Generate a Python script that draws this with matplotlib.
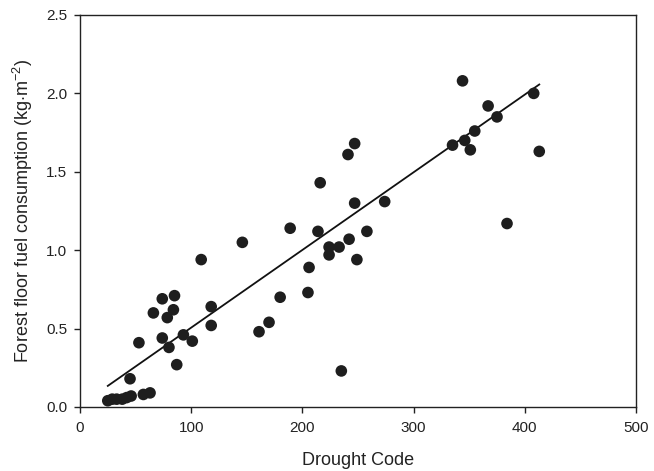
import numpy as np
import matplotlib
matplotlib.use("Agg")
import matplotlib.pyplot as plt

plt.rcParams['font.family'] = ['Liberation Sans', 'DejaVu Sans']
plt.rcParams['mathtext.fontset'] = 'custom'
plt.rcParams['mathtext.rm'] = 'Liberation Sans'
plt.rcParams['mathtext.it'] = 'Liberation Sans'

drought_code = [25, 29, 33, 38, 42, 46, 57, 63,
                45, 53, 66, 74, 74, 78.5, 80, 84, 85, 87, 93, 101,
                109, 118, 118, 146, 161, 170, 180, 189, 205, 206,
                214, 216, 224, 224, 233, 235, 241, 242, 247, 247,
                249, 258, 274, 335, 344, 346, 351, 355, 367, 375,
                384, 408, 413]
fuel_consumption = [0.04, 0.05, 0.05, 0.05, 0.06, 0.07, 0.08, 0.09,
                    0.18, 0.41, 0.60, 0.69, 0.44, 0.57, 0.38, 0.62, 0.71, 0.27, 0.46, 0.42,
                    0.94, 0.64, 0.52, 1.05, 0.48, 0.54, 0.70, 1.14, 0.73, 0.89,
                    1.12, 1.43, 1.02, 0.97, 1.02, 0.23, 1.61, 1.07, 1.68, 1.30,
                    0.94, 1.12, 1.31, 1.67, 2.08, 1.70, 1.64, 1.76, 1.92, 1.85,
                    1.17, 2.00, 1.63]

fit_slope = 0.004954
fit_intercept = 0.0107

x_ticks = [0, 100, 200, 300, 400, 500]
y_ticks = [0.0, 0.5, 1.0, 1.5, 2.0, 2.5]

fig = plt.figure(figsize=(6.54, 4.71), dpi=100)
ax = fig.add_axes([0.1223, 0.1359, 0.8502, 0.8323])

x = np.array(drought_code)
y = np.array(fuel_consumption)
ax.scatter(x, y, s=70, color='#1e1e1e', edgecolors='none', zorder=3)

xl = np.array([x.min(), x.max()])
ax.plot(xl, fit_intercept + fit_slope * xl, color='#111111', lw=1.3, zorder=2)

ax.set_xlim(0, 500)
ax.set_ylim(0, 2.5)
ax.set_xticks(x_ticks)
ax.set_yticks(y_ticks)
ax.set_yticklabels([f"{v:.1f}" for v in y_ticks])
ax.tick_params(direction='out', length=4, width=1, labelsize=11, colors='#222222')
ax.tick_params(axis='x', pad=6)
ax.tick_params(axis='y', pad=5)
for sp in ax.spines.values():
    sp.set_linewidth(1.0)
    sp.set_color('#222222')

ax.set_xlabel('Drought Code', fontsize=13, labelpad=12, color='#222222')
ax.set_ylabel(r'Forest floor fuel consumption (kg$\cdot$m$^{-2}$)', fontsize=13, labelpad=8, color='#222222')

fig.savefig('out.png', dpi=100)
